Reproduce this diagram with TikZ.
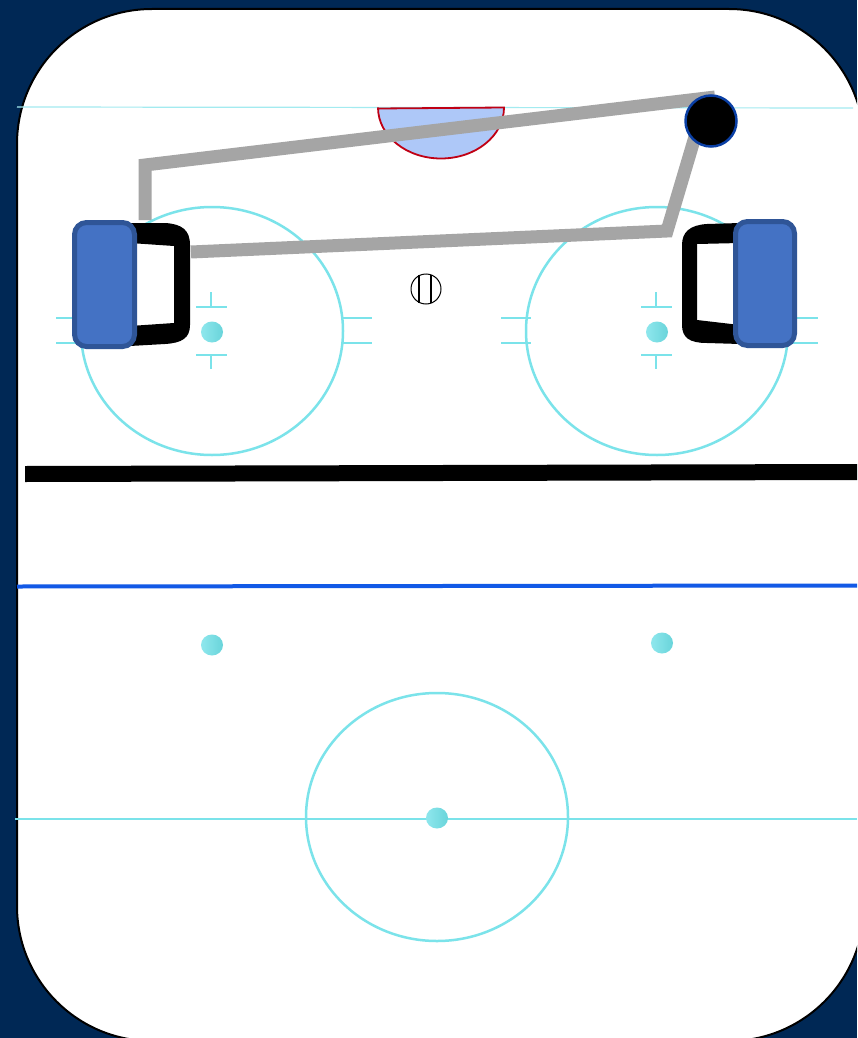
\documentclass[tikz,border=0pt]{standalone}
\usepackage{tikz}
\usetikzlibrary{positioning,calc}

\definecolor{rinknavy}{HTML}{002855}
\definecolor{icecyan}{HTML}{7BE3EA}
\definecolor{padblue}{HTML}{4472C4}
\definecolor{padedge}{HTML}{2F5597}
\definecolor{creaseblue}{HTML}{AEC8F8}
\definecolor{creasered}{HTML}{C00014}
\definecolor{skategray}{HTML}{A5A5A5}
\definecolor{blueline}{HTML}{1259E6}
\definecolor{playerring}{HTML}{0A3FA5}

\tikzset{
    iceline/.style={icecyan, line width=2.5pt},
    hashline/.style={icecyan, line width=1.2pt},
    facedot/.style={left color=icecyan!85!white, right color=icecyan!85!teal, draw=none},
    padbox/.style={draw=padedge, fill=padblue, line width=5pt, rounded corners=12pt},
    skateline/.style={skategray, line width=13pt, miter limit=20}
}

\begin{document}
\begin{tikzpicture}[x=1pt, y=-1pt]
    \useasboundingbox (0,0) rectangle (857,1038);
    \clip (0,0) rectangle (857,1038);
    \fill[rinknavy] (0,0) rectangle (857,1038);

    % Rink
    \draw[black, line width=2pt, fill=white, rounded corners=135pt] (17,9) rectangle (864,1041);

    % Lines across the ice
    \draw[icecyan!70!white, line width=1.2pt] (17,107) -- (853,108);
    \draw[iceline] (15,819) -- (857,819);
    \draw[blueline, line width=4pt] (17,586.5) -- (857,585.5);
    \fill[black] (25,466) -- (857,464) -- (857,480) -- (25,482) -- cycle;

    % Crease
    \draw[creasered, fill=creaseblue, line width=1.8pt] (378,108.5) -- (504,107.5) arc[start angle=0, end angle=180, x radius=63, y radius=51] -- cycle;

    % Faceoff circles
    \draw[iceline] (212,331) ellipse (131 and 124);
    \draw[iceline] (657,331) ellipse (131 and 124);
    \draw[iceline] (437,817) ellipse (131 and 124);

    % Hash marks
    \foreach \cx/\lx/\rx in {211/56/342, 656/501/788} {
        \foreach \hy in {318,343} {
            \draw[hashline] (\lx,\hy) -- ++(30,0);
            \draw[hashline] (\rx,\hy) -- ++(30,0);
        }
        \draw[hashline] (\cx-15,307) -- (\cx+16,307);
        \draw[hashline] (\cx,292) -- (\cx,307);
        \draw[hashline] (\cx-15,355) -- (\cx+16,355);
        \draw[hashline] (\cx,355) -- (\cx,369);
    }

    % Faceoff dots
    \foreach \dx/\dy in {212/332, 657/332, 212/645, 662/643, 437/818} {
        \shade[facedot] (\dx,\dy) ellipse (11 and 10.5);
    }

    % Goal frames
    \fill[black, even odd rule] (130,223) -- (165,223) .. controls (182,224) and (190,230) .. (190,245) -- (190,325) .. controls (190,338) and (182,343) .. (165,344) -- (130,346) -- cycle
        (130,243) -- (174,246) -- (174,323) -- (130,326) -- cycle;
    \fill[black, even odd rule] (740,223) -- (707,224) .. controls (690,225) and (682,232) .. (682,245) -- (682,325) .. controls (682,338) and (690,343) .. (707,343) -- (740,344) -- cycle
        (740,243) -- (697,244) -- (697,320) -- (740,325) -- cycle;

    % Goalie pads
    \draw[padbox] (74.5,222.5) rectangle (134.5,346.5);
    \draw[padbox] (735.5,221.5) rectangle (794.5,345.5);

    % Skate lines
    \coordinate (backtop) at (145,220);
    \coordinate (backcorner) at (145,165);
    \coordinate (shooter) at (715,97);
    \coordinate (lowstart) at (191,252);
    \coordinate (lowcorner) at (667,231);
    \coordinate (lowend) at (697,130);
    \draw[skateline] (backtop) -- (backcorner) -- (shooter);
    \draw[skateline] (lowstart) -- (lowcorner) -- (lowend);

    % Player
    \draw[fill=black, draw=playerring, line width=2.5pt] (711,121) circle (25.5);

    % Referee mark
    \draw[black, line width=1pt] (426,289) circle (15);
    \draw[black, line width=1.5pt] (419,275) -- (419,303);
    \draw[black, line width=1.5pt] (431,275) -- (431,303);
\end{tikzpicture}
\end{document}
